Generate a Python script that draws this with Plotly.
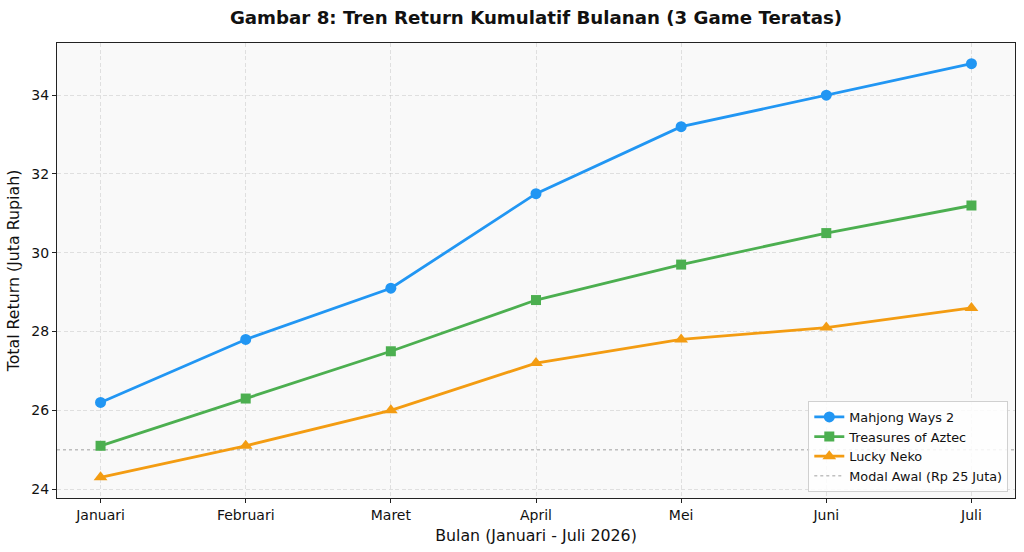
import plotly.graph_objects as go

months = ["Januari", "Februari", "Maret", "April", "Mei", "Juni", "Juli"]
mahjong = [26.2, 27.8, 29.1, 31.5, 33.2, 34.0, 34.8]
aztec = [25.1, 26.3, 27.5, 28.8, 29.7, 30.5, 31.2]
neko = [24.3, 25.1, 26.0, 27.2, 27.8, 28.1, 28.6]
modal_awal = 25.0
y_ticks = [24, 26, 28, 30, 32, 34]

FONT = "DejaVu Sans"
idx = list(range(len(months)))

fig = go.Figure()
series = [
    ("Mahjong Ways 2", mahjong, "#2196F3", "circle", 11),
    ("Treasures of Aztec", aztec, "#4CAF50", "square", 10),
    ("Lucky Neko", neko, "#F39C12", "triangle-up", 12),
]
for name, vals, color, sym, size in series:
    fig.add_trace(go.Scatter(
        x=idx, y=vals, name=name, mode="lines+markers",
        line=dict(color=color, width=2.8),
        marker=dict(symbol=sym, size=size, color=color),
    ))

fig.add_trace(go.Scatter(
    x=[None], y=[None], name="Modal Awal (Rp 25 Juta)", mode="lines",
    line=dict(color="rgba(150,150,150,0.6)", width=1.5, dash="dot"),
))
fig.add_shape(type="line", xref="paper", x0=0, x1=1, yref="y",
              y0=modal_awal, y1=modal_awal,
              line=dict(color="rgba(150,150,150,0.6)", width=1.5, dash="dot"),
              layer="below")

axis_common = dict(
    showline=True, linecolor="#222", linewidth=1.2, mirror=True,
    ticks="outside", ticklen=4, tickcolor="#222",
    showgrid=True, gridcolor="rgba(190,190,190,0.45)", griddash="4px,2.5px", gridwidth=1,
    zeroline=False, tickfont=dict(family=FONT, size=14, color="#111"),
)

fig.update_layout(
    width=1024, height=552,
    margin=dict(l=57, r=9, t=43, b=54),
    paper_bgcolor="white", plot_bgcolor="#f9f9f9",
    font=dict(family=FONT, color="#111"),
    title=dict(text="<b>Gambar 8: Tren Return Kumulatif Bulanan (3 Game Teratas)</b>",
               x=0.5, xref="paper", xanchor="center", y=0.968, yref="container",
               yanchor="middle", font=dict(family=FONT, size=18.2, color="#111")),
    xaxis=dict(axis_common, range=[-0.3, 6.3], tickvals=idx, ticktext=months,
               title=dict(text="Bulan (Januari - Juli 2026)", standoff=8,
                          font=dict(family=FONT, size=15.8))),
    yaxis=dict(axis_common, range=[23.775, 35.325], tickvals=y_ticks,
               title=dict(text="Total Return (Juta Rupiah)", standoff=7,
                          font=dict(family=FONT, size=15.8))),
    legend=dict(x=0.993, y=0.013, xanchor="right", yanchor="bottom",
                bgcolor="rgba(255,255,255,0.85)", bordercolor="#d0d0d0", borderwidth=1,
                font=dict(family=FONT, size=12.8, color="#111"),
                tracegroupgap=0, itemwidth=30),
    showlegend=True,
)

fig.write_html("out.html")
